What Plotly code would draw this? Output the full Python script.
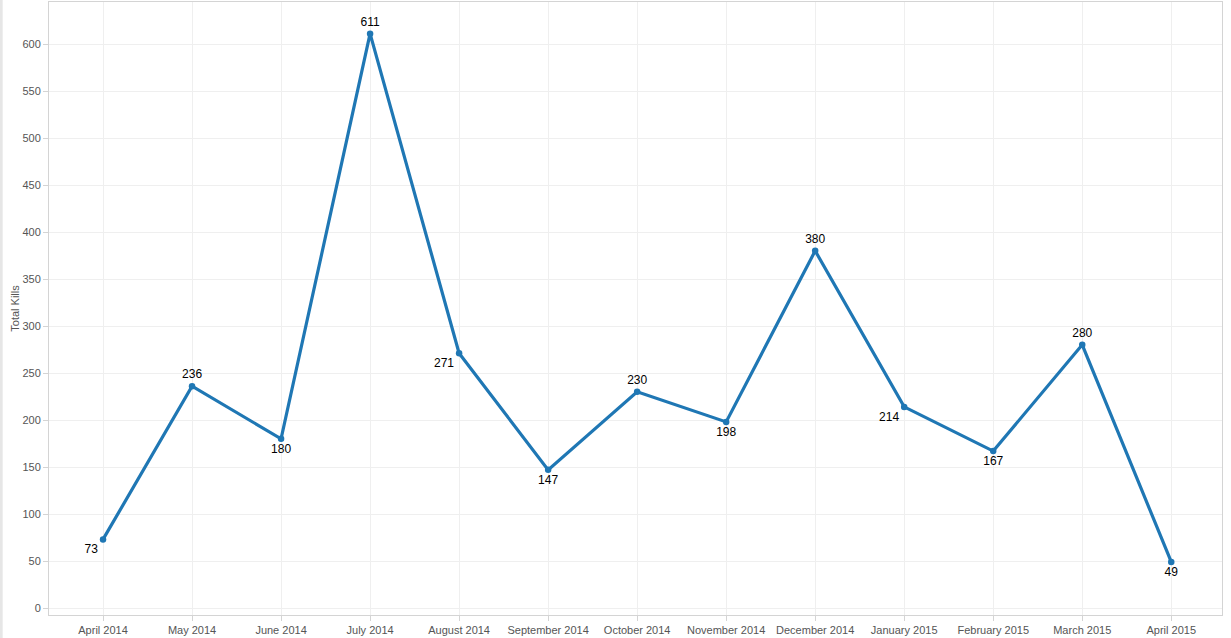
import plotly.graph_objects as go

# Monthly totals
months = ["April 2014", "May 2014", "June 2014", "July 2014", "August 2014",
          "September 2014", "October 2014", "November 2014", "December 2014",
          "January 2015", "February 2015", "March 2015", "April 2015"]
kills = [73, 236, 180, 611, 271, 147, 230, 198, 380, 214, 167, 280, 49]
label_pos = ["bottom left", "top center", "bottom center", "top center", "bottom left",
             "bottom center", "top center", "bottom center", "top center",
             "bottom left", "bottom center", "top center", "bottom center"]

x_idx = list(range(len(months)))

fig = go.Figure()
fig.add_trace(go.Scatter(
    x=x_idx, y=kills,
    mode="lines+markers+text",
    line=dict(color="#1f77b4", width=3.2),
    marker=dict(size=6.5, color="#1f77b4"),
    text=[str(v) for v in kills],
    textposition=label_pos,
    textfont=dict(family="Liberation Sans, Arial", size=12, color="#000000"),
    cliponaxis=False,
    showlegend=False,
    hoverinfo="x+y",
))

axis_common = dict(
    showline=True, linecolor="#d4d4d4", linewidth=1,
    gridcolor="#efefef", gridwidth=1,
    zeroline=False,
    ticks="outside", ticklen=5, tickcolor="#d4d4d4",
    tickfont=dict(family="Liberation Sans, Arial", size=11, color="#555555"),
    mirror=True,
)

fig.update_layout(
    width=1231, height=638,
    margin=dict(l=49, r=9, t=2, b=23),
    paper_bgcolor="white",
    plot_bgcolor="white",
    xaxis=dict(axis_common, tickmode="array", tickvals=x_idx, ticktext=months,
               range=[-0.607, 12.57]),
    yaxis=dict(axis_common, range=[-7.4, 644.7], dtick=50,
               title=dict(text="Total Kills", standoff=0,
                          font=dict(family="Liberation Sans, Arial", size=11, color="#555555"))),
    shapes=[dict(type="rect", xref="paper", yref="paper", x0=-0.042, x1=-0.0395, y0=-1, y1=2,
                 fillcolor="#e6e6e6", line=dict(width=0), layer="below")],
)

fig.write_html("out.html", config={"displayModeBar": False},
               post_script="document.body.style.margin='0px';")
